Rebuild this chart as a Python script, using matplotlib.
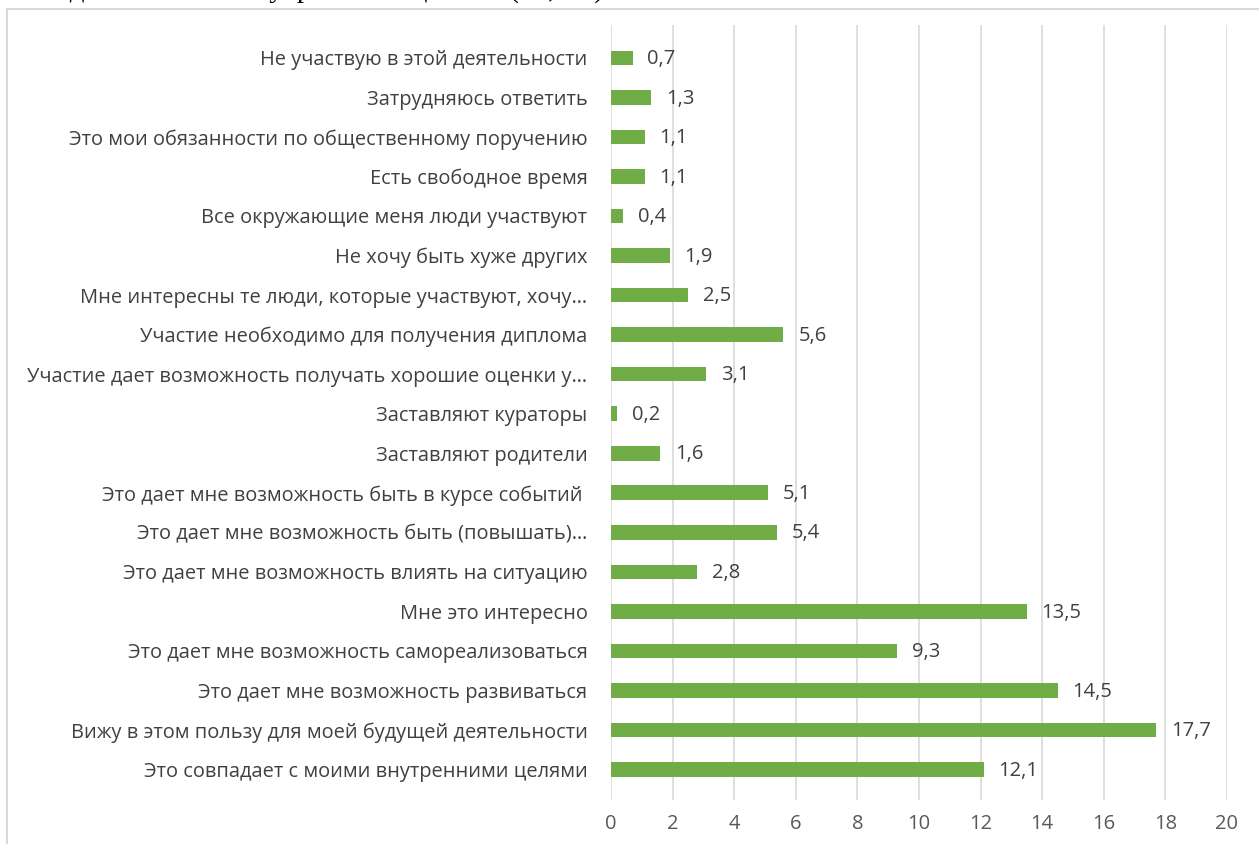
import matplotlib.pyplot as plt
from matplotlib.patches import Rectangle

categories = [
    "Это совпадает с моими внутренними целями",
    "Вижу в этом пользу для моей будущей деятельности",
    "Это дает мне возможность развиваться",
    "Это дает мне возможность самореализоваться",
    "Мне это интересно",
    "Это дает мне возможность влиять на ситуацию",
    "Это дает мне возможность быть (повышать)…",
    "Это дает мне возможность быть в курсе событий ",
    "Заставляют родители",
    "Заставляют кураторы",
    "Участие дает возможность получать хорошие оценки у…",
    "Участие необходимо для получения диплома",
    "Мне интересны те люди, которые участвуют, хочу…",
    "Не хочу быть хуже других",
    "Все окружающие меня люди участвуют",
    "Есть свободное время",
    "Это мои обязанности по общественному поручению",
    "Затрудняюсь ответить",
    "Не участвую в этой деятельности",
]
values = [12.1, 17.7, 14.5, 9.3, 13.5, 2.8, 5.4, 5.1, 1.6, 0.2,
          3.1, 5.6, 2.5, 1.9, 0.4, 1.1, 1.1, 1.3, 0.7]
xticks = [0, 2, 4, 6, 8, 10, 12, 14, 16, 18, 20]

W, H = 1259, 844
fig = plt.figure(figsize=(W / 100, H / 100), dpi=100)

# frame of the chart area
fig.patches.append(Rectangle((7 / W, -0.05), 1.05, 1 - 9 / H + 0.05,
                             transform=fig.transFigure, fill=False,
                             edgecolor="#D9D9D9", linewidth=1.5))

# cut-off sentence above the chart (only descenders show)
fig.text(0.0, 1 + 3.5 / H, "совпадает с моими внутренними целями (12,1%).",
         family="Liberation Serif", fontsize=21, color="black",
         ha="left", va="baseline")

ax = fig.add_axes([611 / W, 1 - 800 / H, (1227 - 611) / W, (800 - 25) / H])
ypos = list(range(len(categories)))
ax.barh(ypos, values, height=0.37, color="#70AD47", zorder=3)
for y, v in zip(ypos, values):
    ax.text(v + 0.48, y - 0.03, f"{v:.1f}".replace(".", ","), va="center",
            ha="left", fontsize=14.5, color="#404040", family="Open Sans")

ax.set_xlim(0, 20)
ax.set_ylim(-0.77, 18.83)
ax.set_xticks(xticks)
ax.set_xticklabels([str(t) for t in xticks], family="Open Sans", fontsize=14.5,
                   color="#595959")
ax.set_yticks(ypos)
ax.set_yticklabels(categories, family="Open Sans", fontsize=14.4, color="#404040")
ax.tick_params(axis="both", length=0)
ax.tick_params(axis="x", pad=10)
ax.tick_params(axis="y", pad=17)
ax.grid(axis="x", color="#D9D9D9", linewidth=1.2, zorder=0)
for s in ax.spines.values():
    s.set_visible(False)

fig.savefig("out.png", dpi=100)
